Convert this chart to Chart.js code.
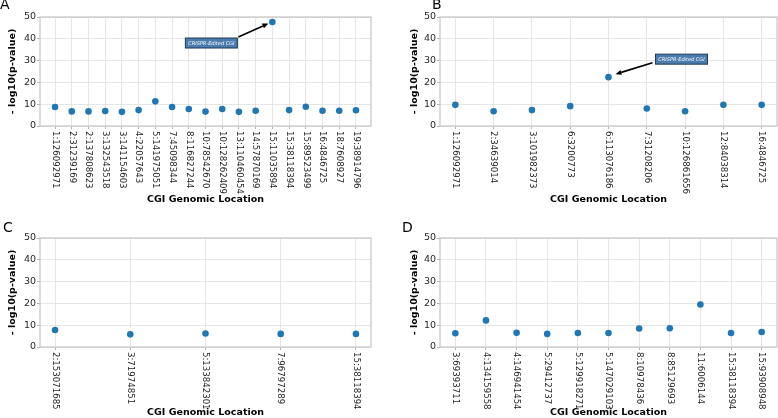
<!DOCTYPE html>
<html>
<head>
<meta charset="utf-8">
<script src="https://cdn.jsdelivr.net/npm/chart.js@4.4.1/dist/chart.umd.min.js"></script>
<style>
  html, body { margin: 0; padding: 0; background: #fff; }
  #wrap { position: relative; width: 778px; height: 418px; overflow: hidden; }
  #wrap canvas { position: absolute; }
  .tag { position: absolute; font: 14px "DejaVu Sans", sans-serif; line-height: 14px; color: #000; }
</style>
</head>
<body>
<div id="wrap">
  <canvas id="chartA" style="left:0;top:0" width="400" height="209"></canvas>
  <canvas id="chartB" style="left:400px;top:0" width="378" height="209"></canvas>
  <canvas id="chartC" style="left:0;top:209px" width="400" height="209"></canvas>
  <canvas id="chartD" style="left:400px;top:209px" width="378" height="209"></canvas>
  <div class="tag" style="left:0;top:-3px">A</div>
  <div class="tag" style="left:432px;top:-3px">B</div>
  <div class="tag" style="left:3px;top:220px">C</div>
  <div class="tag" style="left:402px;top:220px">D</div>
</div>
<script>
// panel A
const locA = ['1:126092971', '2:31239169', '2:137808623', '3:132543518', '3:141154603', '4:22057643',
  '5:141975051', '7:45098344', '8:116827244', '10:78542670', '10:128262409', '13:110460454',
  '14:57870169', '15:11035894', '15:38118394', '15:89523499', '16:4846725', '18:7608927', '19:38914796'];
const pvalA = [8.7, 6.7, 6.7, 6.9, 6.5, 7.3, 11.3, 8.7, 7.8, 6.6, 7.8, 6.5, 7.0, 47.7, 7.3, 8.8, 7.0, 7.0, 7.2];

// panel B
const locB = ['1:126092971', '2:34639014', '3:101982373', '6:3200773', '6:113076186', '7:31208206',
  '10:126861656', '12:84038314', '16:4846725'];
const pvalB = [9.7, 6.8, 7.3, 9.1, 22.4, 8.0, 6.8, 9.7, 9.7];

// panel C
const locC = ['2:153071685', '3:71974851', '5:133842301', '7:96797289', '15:38118394'];
const pvalC = [7.8, 5.8, 6.2, 6.0, 6.0];

// panel D
const locD = ['3:69393711', '4:134159558', '4:146941454', '5:29412737', '5:129918271', '5:147029103',
  '8:10978436', '8:85129693', '11:6006144', '15:38118394', '15:93908948'];
const pvalD = [6.3, 12.2, 6.5, 6.0, 6.4, 6.4, 8.5, 8.6, 19.5, 6.4, 6.9];

const yTicks = [0, 10, 20, 30, 40, 50];
const calloutText = 'CRISPR-Edited CGI';

const FONT = '"DejaVu Sans", sans-serif';
const DOT = '#1f77b4';

// x labels read top to bottom, so draw them ourselves at the scale's tick pixels
const vertLabels = {
  id: 'vertLabels',
  afterDraw(chart, args, opts) {
    const xs = chart.scales.x;
    const ctx = chart.ctx;
    ctx.save();
    ctx.font = '8.6px ' + FONT;
    ctx.fillStyle = '#262626';
    ctx.textAlign = 'left';
    ctx.textBaseline = 'middle';
    opts.names.forEach((name, i) => {
      ctx.save();
      ctx.translate(xs.getPixelForValue(i), xs.top + 5);
      ctx.rotate(Math.PI / 2);
      ctx.fillText(name, 0, 0);
      ctx.restore();
    });
    ctx.restore();
  }
};

// grey box all round the plot area
const frame = {
  id: 'frame',
  beforeDatasetsDraw(chart) {
    const { ctx, chartArea: { left, right, top, bottom } } = chart;
    ctx.save();
    ctx.strokeStyle = '#c8c8c8';
    ctx.lineWidth = 1.25;
    ctx.strokeRect(left, top, right - left, bottom - top);
    ctx.restore();
  }
};

// the labelled box + arrow pointing at the edited CGI
const callout = {
  id: 'callout',
  afterDatasetsDraw(chart, args, opts) {
    if (opts.index == null) return;
    const { ctx, scales: { x, y } } = chart;
    const pt = chart.data.datasets[0].data[opts.index];
    const px = x.getPixelForValue(pt.x);
    const py = y.getPixelForValue(pt.y);
    const b = opts.box;
    ctx.save();
    ctx.fillStyle = '#4b7cad';
    ctx.strokeStyle = '#1d3a57';
    ctx.lineWidth = 1;
    ctx.fillRect(px + b.dx, py + b.dy, b.w, b.h);
    ctx.strokeRect(px + b.dx, py + b.dy, b.w, b.h);
    ctx.fillStyle = '#ffffff';
    ctx.font = 'italic 5px ' + FONT;
    ctx.textAlign = 'center';
    ctx.textBaseline = 'middle';
    ctx.fillText(calloutText, px + b.dx + b.w / 2, py + b.dy + b.h / 2 + 0.5);

    const x1 = px + opts.from[0], y1 = py + opts.from[1];
    const x2 = px + opts.to[0], y2 = py + opts.to[1];
    const ang = Math.atan2(y2 - y1, x2 - x1);
    const hl = 6, hw = 2.6;
    ctx.strokeStyle = '#000';
    ctx.fillStyle = '#000';
    ctx.lineWidth = 1.6;
    ctx.beginPath();
    ctx.moveTo(x1, y1);
    ctx.lineTo(x2 - hl * Math.cos(ang), y2 - hl * Math.sin(ang));
    ctx.stroke();
    ctx.beginPath();
    ctx.moveTo(x2, y2);
    ctx.lineTo(x2 - hl * Math.cos(ang) + hw * Math.sin(ang), y2 - hl * Math.sin(ang) - hw * Math.cos(ang));
    ctx.lineTo(x2 - hl * Math.cos(ang) - hw * Math.sin(ang), y2 - hl * Math.sin(ang) + hw * Math.cos(ang));
    ctx.closePath();
    ctx.fill();
    ctx.restore();
  }
};

function makePanel(id, names, vals, p) {
  const n = names.length;
  const pad = 0.05 * (n - 1);
  return new Chart(document.getElementById(id), {
    type: 'scatter',
    data: {
      datasets: [{
        data: vals.map((v, i) => ({ x: i, y: v })),
        pointRadius: 3.3,
        pointBackgroundColor: DOT,
        pointBorderWidth: 0
      }]
    },
    options: {
      responsive: false,
      animation: false,
      events: [],
      layout: {
        autoPadding: false,
        padding: { top: p.top, right: p.right, left: 0, bottom: 0 }
      },
      plugins: {
        legend: { display: false },
        tooltip: { enabled: false },
        vertLabels: { names: names },
        callout: p.callout || {}
      },
      scales: {
        x: {
          type: 'linear',
          min: -pad,
          max: (n - 1) + pad,
          afterBuildTicks: (s) => { s.ticks = names.map((nm, i) => ({ value: i })); },
          afterFit: (s) => { s.height = p.xh; },
          ticks: { display: false },
          grid: { color: '#e0e0e0', lineWidth: 0.8, tickColor: '#a0a0a0', tickLength: 3 },
          border: { display: false },
          title: {
            display: true,
            text: 'CGI Genomic Location',
            color: '#000',
            font: { family: FONT, size: 9.5, weight: 'bold' },
            padding: { top: 0, bottom: p.xtb }
          }
        },
        y: {
          min: 0,
          max: 50,
          afterBuildTicks: (s) => { s.ticks = yTicks.map(v => ({ value: v })); },
          afterFit: (s) => { s.width = 40; },
          ticks: { color: '#262626', font: { family: FONT, size: 9.5 }, padding: 1 },
          grid: { color: '#e0e0e0', lineWidth: 0.8, tickColor: '#a0a0a0', tickLength: 3 },
          border: { display: false },
          title: {
            display: true,
            text: '- log10(p-value)',
            color: '#000',
            font: { family: FONT, size: 9.5, weight: 'bold' },
            padding: { top: p.ytp, bottom: 0 }
          }
        }
      }
    },
    plugins: [frame, vertLabels, callout]
  });
}

makePanel('chartA', locA, pvalA, {
  top: 17, right: 29, xh: 83, xtb: 4, ytp: 7,
  callout: { index: 13, box: { dx: -87, dy: 16, w: 52, h: 10 }, from: [-34, 15], to: [-4, 1.5] }
});
makePanel('chartB', locB, pvalB, {
  top: 17, right: 1, xh: 83, xtb: 4, ytp: 9,
  callout: { index: 4, box: { dx: 47, dy: -23, w: 52, h: 10 }, from: [44, -14.5], to: [7, -3] }
});
makePanel('chartC', locC, pvalC, { top: 29, right: 29, xh: 71, xtb: 0, ytp: 7 });
makePanel('chartD', locD, pvalD, { top: 29, right: 1, xh: 71, xtb: 0, ytp: 9 });
</script>
</body>
</html>
